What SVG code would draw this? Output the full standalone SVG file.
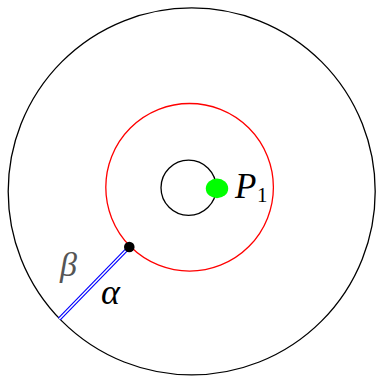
<svg xmlns="http://www.w3.org/2000/svg" width="378" height="376" viewBox="0 0 378 376">
<style>
.c{fill:none;stroke-width:1.3}
.m{font-family:'Liberation Serif',serif;font-style:italic}
</style>
<rect width="378" height="376" fill="#fff"/>
<g id="outer"><circle class="c" cx="191.7" cy="191.4" r="183.5" stroke="#000"/></g>
<g id="red"><circle class="c" cx="189.6" cy="187.3" r="83.8" stroke="#f00"/></g>
<g id="inner"><circle class="c" cx="188.6" cy="187.7" r="27.6" stroke="#000"/></g>
<g id="connectors">
<line x1="129.3" y1="247" x2="59.3" y2="319" stroke="#00f" stroke-width="3.8"/>
<line x1="129.3" y1="247" x2="59.3" y2="319" stroke="#fff" stroke-width="1.5"/>
</g>
<g id="dot"><circle cx="129.3" cy="247" r="5.3" fill="#000"/></g>
<g id="p1">
<ellipse cx="217" cy="188.4" rx="11.2" ry="9.8" fill="#0f0"/>
<text class="m" x="235" y="197.5" font-size="35">P</text>
<text x="257" y="202" font-size="21" font-family="'Liberation Serif',serif">1</text>
</g>
<g id="labels">
<text class="m" x="60" y="276" font-size="34" fill="#555">β</text>
<text class="m" x="101" y="304" font-size="36">α</text>
</g>
</svg>
